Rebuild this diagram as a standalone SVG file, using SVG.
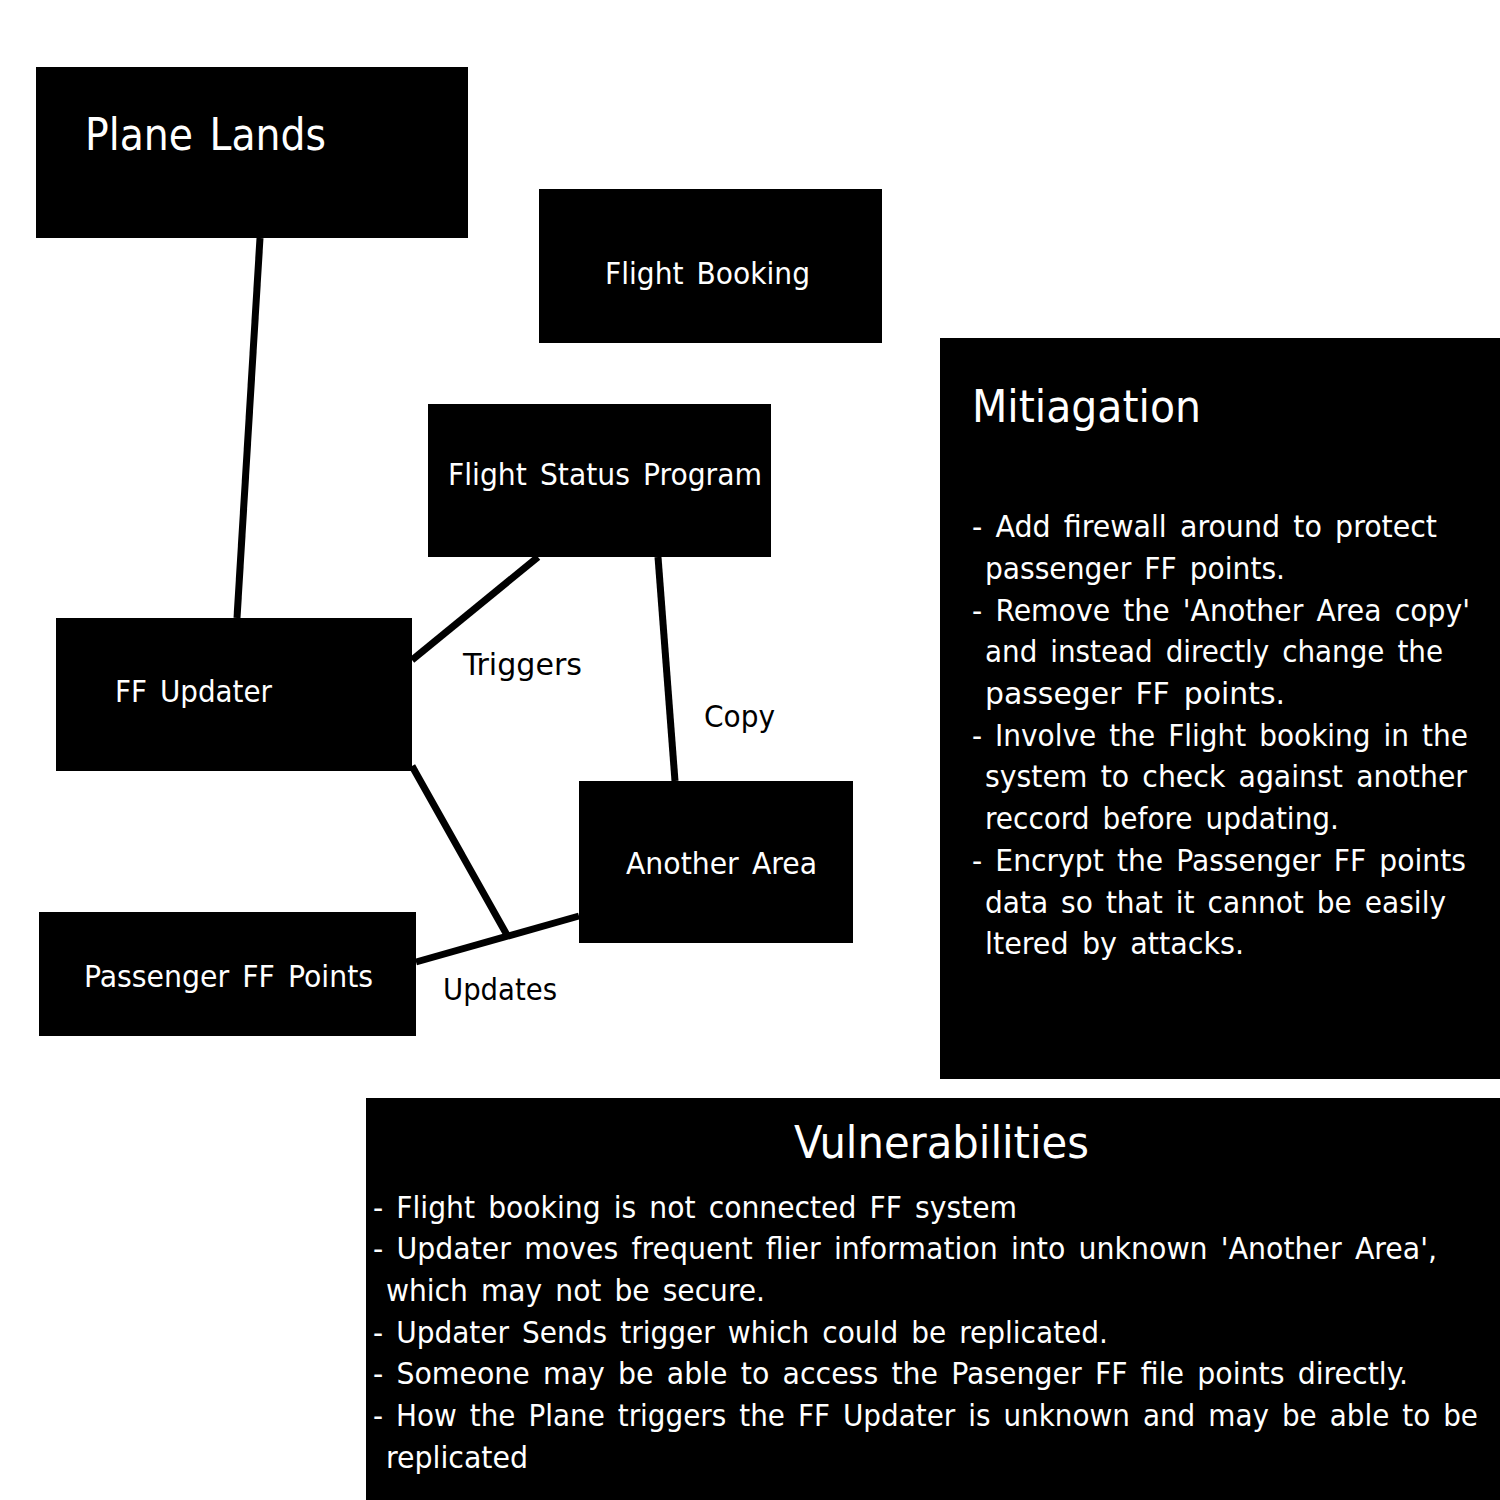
<svg xmlns="http://www.w3.org/2000/svg" width="1500" height="1500" viewBox="0 0 1500 1500">
<style>
.box{fill:#000}
.t{fill:#fff;font-family:"DejaVu Sans Condensed","DejaVu Sans",sans-serif;font-size:30px;word-spacing:4px}
.big{font-size:44px}
.lbl{fill:#000;font-family:"DejaVu Sans Condensed","DejaVu Sans",sans-serif;font-size:30px;word-spacing:4px}
.c{stroke:#000;stroke-width:7;fill:none}
</style>
<rect width="1500" height="1500" fill="#fff"/>
<g id="connectors">
<line class="c" x1="260" y1="238" x2="237" y2="618"/>
<line class="c" x1="538" y1="557" x2="412" y2="660"/>
<line class="c" x1="658" y1="557" x2="675" y2="781"/>
<line class="c" x1="412" y1="766" x2="507" y2="935"/>
<line class="c" x1="416" y1="962" x2="579" y2="916"/>
<text class="lbl" x="463" y="675" textLength="119" lengthAdjust="spacingAndGlyphs">Triggers</text>
<text class="lbl" x="704" y="727" textLength="71" lengthAdjust="spacingAndGlyphs">Copy</text>
<text class="lbl" x="443" y="1000" textLength="114" lengthAdjust="spacingAndGlyphs">Updates</text>
</g>
<g id="plane-lands">
<rect class="box" x="36" y="67" width="432" height="171"/>
<text class="t big" x="85" y="150" textLength="241" lengthAdjust="spacingAndGlyphs">Plane Lands</text>
</g>
<g id="flight-booking">
<rect class="box" x="539" y="189" width="343" height="154"/>
<text class="t" x="605" y="284" textLength="205" lengthAdjust="spacingAndGlyphs">Flight Booking</text>
</g>
<g id="flight-status-program">
<rect class="box" x="428" y="404" width="343" height="153"/>
<text class="t" x="448" y="485" textLength="314" lengthAdjust="spacingAndGlyphs">Flight Status Program</text>
</g>
<g id="ff-updater">
<rect class="box" x="56" y="618" width="356" height="153"/>
<text class="t" x="115" y="702" textLength="157" lengthAdjust="spacingAndGlyphs">FF Updater</text>
</g>
<g id="another-area">
<rect class="box" x="579" y="781" width="274" height="162"/>
<text class="t" x="626" y="874" textLength="191" lengthAdjust="spacingAndGlyphs">Another Area</text>
</g>
<g id="passenger-ff-points">
<rect class="box" x="39" y="912" width="377" height="124"/>
<text class="t" x="84" y="987" textLength="289" lengthAdjust="spacingAndGlyphs">Passenger FF Points</text>
</g>
<g id="mitigation">
<rect class="box" x="940" y="338" width="560" height="741"/>
<text class="t big" x="972" y="422" textLength="229" lengthAdjust="spacingAndGlyphs">Mitiagation</text>
<text class="t" x="972" y="537" textLength="465" lengthAdjust="spacingAndGlyphs">- Add firewall around to protect</text>
<text class="t" x="985" y="579" textLength="300" lengthAdjust="spacingAndGlyphs">passenger FF points.</text>
<text class="t" x="972" y="621" textLength="498" lengthAdjust="spacingAndGlyphs">- Remove the 'Another Area copy'</text>
<text class="t" x="985" y="662" textLength="458" lengthAdjust="spacingAndGlyphs">and instead directly change the</text>
<text class="t" x="985" y="704" textLength="300" lengthAdjust="spacingAndGlyphs">passeger FF points.</text>
<text class="t" x="972" y="746" textLength="496" lengthAdjust="spacingAndGlyphs">- Involve the Flight booking in the</text>
<text class="t" x="985" y="787" textLength="482" lengthAdjust="spacingAndGlyphs">system to check against another</text>
<text class="t" x="985" y="829" textLength="354" lengthAdjust="spacingAndGlyphs">reccord before updating.</text>
<text class="t" x="972" y="871" textLength="494" lengthAdjust="spacingAndGlyphs">- Encrypt the Passenger FF points</text>
<text class="t" x="985" y="913" textLength="461" lengthAdjust="spacingAndGlyphs">data so that it cannot be easily</text>
<text class="t" x="985" y="954" textLength="259" lengthAdjust="spacingAndGlyphs">ltered by attacks.</text>
</g>
<g id="vulnerabilities">
<rect class="box" x="366" y="1098" width="1134" height="402"/>
<text class="t big" x="794" y="1158" textLength="295" lengthAdjust="spacingAndGlyphs">Vulnerabilities</text>
<text class="t" x="373" y="1218" textLength="644" lengthAdjust="spacingAndGlyphs">- Flight booking is not connected FF system</text>
<text class="t" x="373" y="1259" textLength="1064" lengthAdjust="spacingAndGlyphs">- Updater moves frequent flier information into unknown 'Another Area',</text>
<text class="t" x="386" y="1301" textLength="379" lengthAdjust="spacingAndGlyphs">which may not be secure.</text>
<text class="t" x="373" y="1343" textLength="735" lengthAdjust="spacingAndGlyphs">- Updater Sends trigger which could be replicated.</text>
<text class="t" x="373" y="1384" textLength="1035" lengthAdjust="spacingAndGlyphs">- Someone may be able to access the Pasenger FF file points directly.</text>
<text class="t" x="373" y="1426" textLength="1105" lengthAdjust="spacingAndGlyphs">- How the Plane triggers the FF Updater is unknown and may be able to be</text>
<text class="t" x="386" y="1468" textLength="142" lengthAdjust="spacingAndGlyphs">replicated</text>
</g>
</svg>
